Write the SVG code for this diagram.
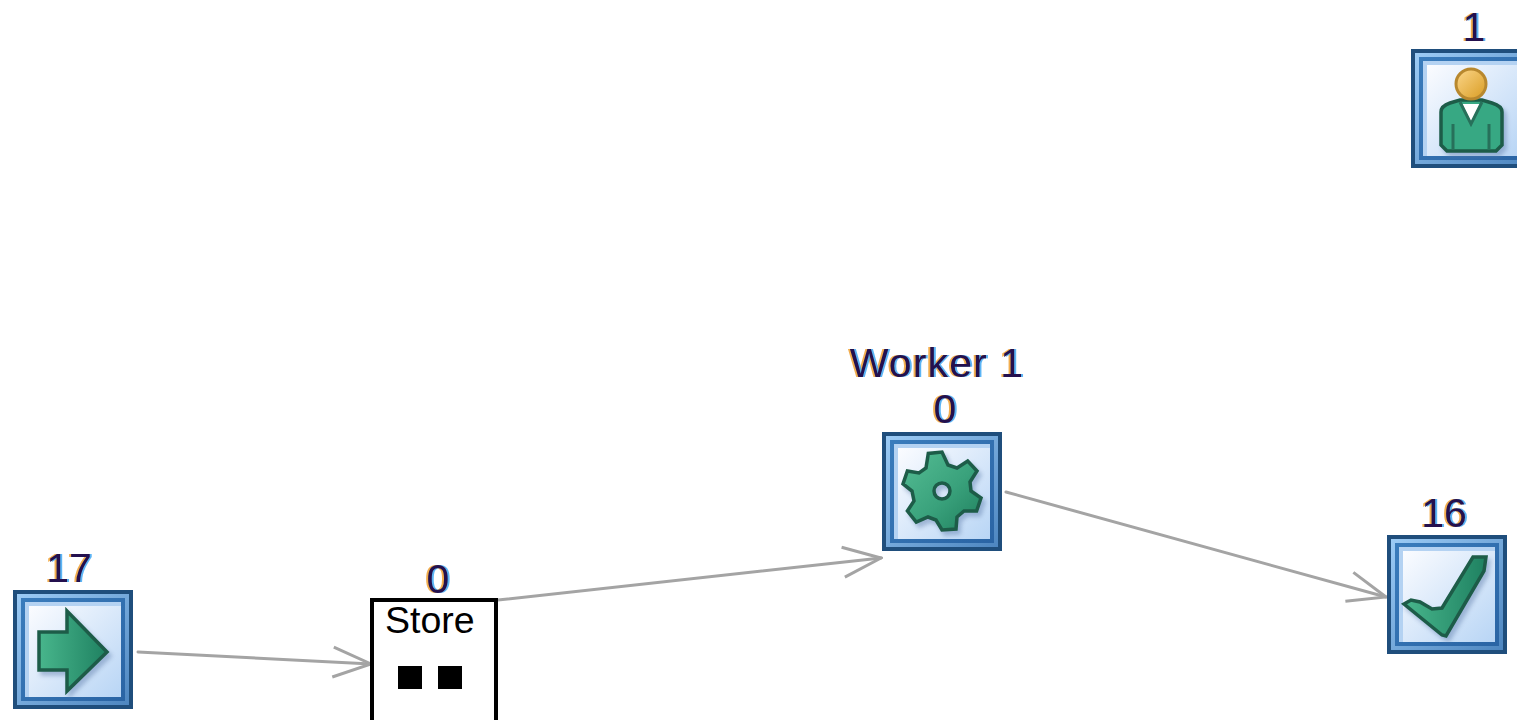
<svg xmlns="http://www.w3.org/2000/svg" xmlns:xlink="http://www.w3.org/1999/xlink" width="1517" height="720" viewBox="0 0 1517 720">
<style>
text{font-family:"Liberation Sans",Arial,sans-serif}
.lbl{font-size:41px;fill:#24104e;text-anchor:middle;filter:url(#fringe)}
.store{font-size:37.5px;fill:#000}
.conn{fill:none;stroke:#a4a4a4;stroke-width:3;stroke-linecap:round;stroke-linejoin:round}
.icon{stroke:#1d5c48;stroke-width:3.5;stroke-linejoin:miter;filter:url(#shade)}
</style>
<defs>
<linearGradient id="band1" x1="0" y1="0" x2="1" y2="1"><stop offset="0" stop-color="#9ccbf5"/><stop offset="1" stop-color="#4d86c0"/></linearGradient>
<linearGradient id="band2" x1="0" y1="0" x2="1" y2="1"><stop offset="0" stop-color="#3a7cbc"/><stop offset="1" stop-color="#2a64a4"/></linearGradient>
<linearGradient id="panel" x1="0" y1="0" x2="1" y2="1"><stop offset="0" stop-color="#fbfcff"/><stop offset="1" stop-color="#b8d5f5"/></linearGradient>
<linearGradient id="green" x1="0" y1="0" x2="1" y2="0"><stop offset="0" stop-color="#48b68c"/><stop offset="1" stop-color="#1f8161"/></linearGradient>
<linearGradient id="gear" x1="0" y1="0" x2="1" y2="1"><stop offset="0" stop-color="#55bd94"/><stop offset=".55" stop-color="#3aa27c"/><stop offset="1" stop-color="#1f7f5e"/></linearGradient>
<linearGradient id="gold" x1="0" y1="0" x2="1" y2="1"><stop offset="0" stop-color="#fcd78c"/><stop offset="1" stop-color="#d99c22"/></linearGradient>
<filter id="shade" x="-15%" y="-15%" width="135%" height="135%" color-interpolation-filters="sRGB">
<feGaussianBlur in="SourceAlpha" stdDeviation="2"/>
<feOffset dx="3" dy="4"/>
<feFlood flood-color="#5a7aa8" flood-opacity=".45" result="c"/>
<feComposite in="c" in2="SourceAlpha" operator="out" result="x"/>
<feGaussianBlur in="SourceAlpha" stdDeviation="2" result="bl"/>
<feOffset in="bl" dx="3" dy="4" result="off"/>
<feComposite in="c" in2="off" operator="in" result="sh"/>
<feMerge><feMergeNode in="sh"/><feMergeNode in="SourceGraphic"/></feMerge>
</filter>
<filter id="fringe" x="-10%" y="-10%" width="120%" height="120%" color-interpolation-filters="sRGB">
<feFlood flood-color="#f0a030" flood-opacity=".85" result="o"/>
<feComposite in="o" in2="SourceAlpha" operator="in" result="oa"/>
<feOffset in="oa" dx="-2" result="ol"/>
<feFlood flood-color="#40a8f4" flood-opacity=".85" result="b"/>
<feComposite in="b" in2="SourceAlpha" operator="in" result="ba"/>
<feOffset in="ba" dx="2" result="br"/>
<feMerge><feMergeNode in="ol"/><feMergeNode in="br"/><feMergeNode in="SourceGraphic"/></feMerge>
</filter>
<g id="frame" shape-rendering="crispEdges">
<rect width="120" height="119" fill="#1f4e7c"/>
<rect x="4" y="4" width="112" height="111" fill="url(#band1)"/>
<rect x="8" y="8" width="104" height="103" fill="url(#band2)"/>
<rect x="12" y="12" width="96" height="95" fill="#b4d2f2"/>
<rect x="16" y="16" width="92" height="91" fill="url(#panel)"/>
</g>
<marker id="open" viewBox="0 0 42 34" refX="40" refY="17" markerWidth="42" markerHeight="34" markerUnits="userSpaceOnUse" orient="auto"><path d="M2 2L40 17L2 32" fill="none" stroke="#a4a4a4" stroke-width="3"/></marker>
</defs>
<rect width="1517" height="720" fill="#fff"/>
<g id="connectors">
<path class="conn" marker-end="url(#open)" d="M138 652L371 664"/>
<path class="conn" marker-end="url(#open)" d="M498 600L881 558"/>
<path class="conn" marker-end="url(#open)" d="M1006 492L1386 597"/>
</g>
<g id="source">
<use xlink:href="#frame" href="#frame" x="13" y="590"/>
<path class="icon" fill="url(#green)" d="M39 632H67V611L107 652L67 691V670H39Z"/>
<text class="lbl" x="69" y="582">17</text>
</g>
<g id="store">
<rect x="372" y="600" width="124" height="200" fill="#fff" stroke="#000" stroke-width="4" shape-rendering="crispEdges"/>
<text class="store" x="385" y="633">Store</text>
<rect x="398" y="666" width="24" height="23" fill="#000"/>
<rect x="438" y="666" width="24" height="23" fill="#000"/>
<text class="lbl" x="438" y="593">0</text>
</g>
<g id="worker">
<use xlink:href="#frame" href="#frame" x="882" y="432"/>
<path class="icon" fill="url(#gear)" fill-rule="evenodd" stroke-width="2.5" d="M926 468L928.3 453.4L942 452L948 465L957 468L967.7 461L977 471L970 482L971 491L981 498L976.6 511L964 511L957 517L956 529L942 530L936 520L928 517L916.3 522L907.4 511L914 501L912 491L903 484L907.4 471L919 473ZM950 491A8 8 0 1 0 934 491A8 8 0 1 0 950 491Z"/>
<text class="lbl" x="937" y="377" style="letter-spacing:1.1px">Worker 1</text>
<text class="lbl" x="945" y="423">0</text>
</g>
<g id="sink">
<use xlink:href="#frame" href="#frame" x="1387" y="535"/>
<path class="icon" fill="url(#green)" d="M1404 604L1411 600L1420 602L1432 609L1442 608L1473 557L1486 557L1484 571L1446 636L1442 635Z"/>
<text class="lbl" x="1444" y="527">16</text>
</g>
<g id="person">
<use xlink:href="#frame" href="#frame" x="1411" y="49"/>
<path class="icon" fill="#37a883" stroke-width="3" d="M1441 112Q1441 106 1450 103L1460 100H1482L1492 103Q1502 106 1502 112V145L1496 151H1447L1441 145Z"/>
<path fill="#fff" d="M1462 104H1480L1471 122Z"/>
<path fill="none" stroke="#27705a" stroke-width="3" d="M1453 124V150M1489 124V150M1460 102L1471 124L1482 102"/>
<circle cx="1471" cy="84" r="15" fill="url(#gold)" stroke="#b8882e" stroke-width="3"/>
<text class="lbl" x="1474" y="41">1</text>
</g>
</svg>
